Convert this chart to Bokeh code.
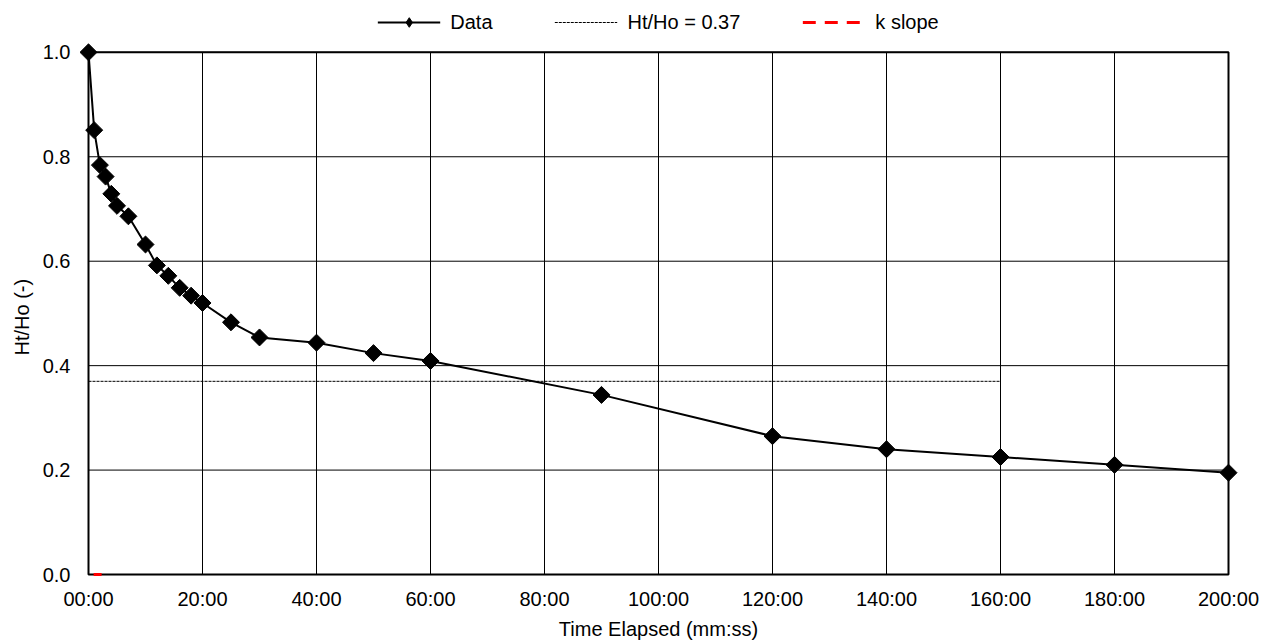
from bokeh.plotting import figure
from bokeh.models import Range1d, FixedTicker, Legend, LegendItem, Title
from bokeh.embed import file_html
from bokeh.resources import INLINE
import numpy as np

# ---- data ----
time_min = [0, 1, 2, 3, 4, 5, 7, 10, 12, 14, 16, 18, 20, 25, 30, 40, 50, 60, 90, 120, 140, 160, 180, 200]
ht_ho = [1.0, 0.851, 0.784, 0.762, 0.729, 0.706, 0.686, 0.632, 0.592, 0.572, 0.549, 0.534, 0.520,
         0.483, 0.454, 0.444, 0.424, 0.409, 0.344, 0.265, 0.240, 0.225, 0.210, 0.195]
ref_t = [0, 160]
ref_y = [0.37, 0.37]
k_t = [0.9, 2.3]
k_y = [0.0, 0.0]
x_ticks = [0, 20, 40, 60, 80, 100, 120, 140, 160, 180, 200]
x_tick_labels = ["00:00", "20:00", "40:00", "60:00", "80:00", "100:00", "120:00",
                 "140:00", "160:00", "180:00", "200:00"]
y_ticks = [0.0, 0.2, 0.4, 0.6, 0.8, 1.0]
y_tick_labels = ["0.0", "0.2", "0.4", "0.6", "0.8", "1.0"]

FONT = "Liberation Sans"
FS = "20px"

# layout (pixels)
W, H = 1262, 642
PLOT_L, PLOT_R, PLOT_T, PLOT_B = 88, 1228, 52, 576   # visible plot area
PAD = 10                                              # frame padding so edge markers are not clipped
x0, x1 = x_ticks[0], x_ticks[-1]
y0, y1 = y_ticks[0], y_ticks[-1]
xs = (x1 - x0) / (PLOT_R - PLOT_L)   # data units per pixel
ys = (y1 - y0) / (PLOT_B - PLOT_T)

p = figure(width=W, height=H, output_backend="svg", toolbar_location=None,
           x_range=Range1d(x0 - PAD * xs, x1 + PAD * xs),
           y_range=Range1d(y0 - PAD * ys, y1 + PLOT_T * ys),
           min_border_left=PLOT_L - PAD, min_border_right=W - PLOT_R - PAD,
           min_border_top=0, min_border_bottom=H - PLOT_B - PAD)
p.background_fill_color = "white"
p.border_fill_color = "white"
p.outline_line_color = None
p.xgrid.visible = False
p.ygrid.visible = False

for ax in (p.xaxis[0], p.yaxis[0]):
    ax.major_tick_line_color = None
    ax.minor_tick_line_color = None
    ax.major_tick_out = 0
    ax.major_tick_in = 0
    ax.axis_line_color = None
    ax.major_label_text_font = FONT
    ax.major_label_text_font_size = FS
    ax.major_label_text_color = "black"
    ax.axis_label_text_font = FONT
    ax.axis_label_text_font_size = FS
    ax.axis_label_text_font_style = "normal"
    ax.axis_label_text_color = "black"

p.xaxis.ticker = FixedTicker(ticks=x_ticks)
p.xaxis.major_label_overrides = {t: l for t, l in zip(x_ticks, x_tick_labels)}
p.xaxis.bounds = (x0, x1)
p.yaxis.ticker = FixedTicker(ticks=y_ticks)
p.yaxis.major_label_overrides = {t: l for t, l in zip(y_ticks, y_tick_labels)}
p.yaxis.bounds = (y0, y1)
p.xaxis.axis_label = "Time Elapsed (mm:ss)"
p.xaxis.major_label_standoff = 3
p.xaxis.axis_label_standoff = 5
p.yaxis.major_label_standoff = 8

# y-axis title: starts (bottom) at page y ~357 so it is centred on the plot area
ytitle = Title(text="Ht/Ho (-)", align="left", offset=(PLOT_B + PAD) - 357,
               text_font=FONT, text_font_size=FS, text_font_style="normal",
               text_color="black", standoff=13)
p.add_layout(ytitle, "left")

# grid lines
p.segment(x0=x_ticks, y0=[y0] * len(x_ticks), x1=x_ticks, y1=[y1] * len(x_ticks),
          line_color="black", line_width=1)
p.segment(x0=[x0] * len(y_ticks), y0=y_ticks, x1=[x1] * len(y_ticks), y1=y_ticks,
          line_color="black", line_width=1)
# plot-area border
p.quad(left=[x0], right=[x1], bottom=[y0], top=[y1], fill_color=None,
       line_color="black", line_width=2)

# reference line
r_ref = p.line(ref_t, ref_y, line_color="black", line_width=1, line_dash="3 1")
# data
r_line = p.line(time_min, ht_ho, line_color="black", line_width=2)
r_pts = p.scatter(time_min, ht_ho, marker="square", angle=np.pi / 4, size=12,
                  fill_color="black", line_color="black")
# legend-only diamond proxy (draws nothing in the plot)
r_leg = p.scatter([np.nan], [np.nan], marker="diamond", fill_color="black", line_color="black")
# k slope
r_k = p.line(k_t, k_y, line_color="red", line_width=3, line_dash="13 9")

legend = Legend(items=[LegendItem(label="Data", renderers=[r_line, r_leg]),
                       LegendItem(label="Ht/Ho = 0.37", renderers=[r_ref]),
                       LegendItem(label="k slope", renderers=[r_k])],
                location="top_center", orientation="horizontal",
                padding=0, margin=10, spacing=62, border_line_color=None,
                background_fill_alpha=0, glyph_width=63, glyph_height=24,
                label_height=24, label_standoff=10,
                label_text_font=FONT, label_text_font_size=FS, label_text_color="black")
p.add_layout(legend, "center")

open("out.html", "w").write(file_html(p, INLINE))
